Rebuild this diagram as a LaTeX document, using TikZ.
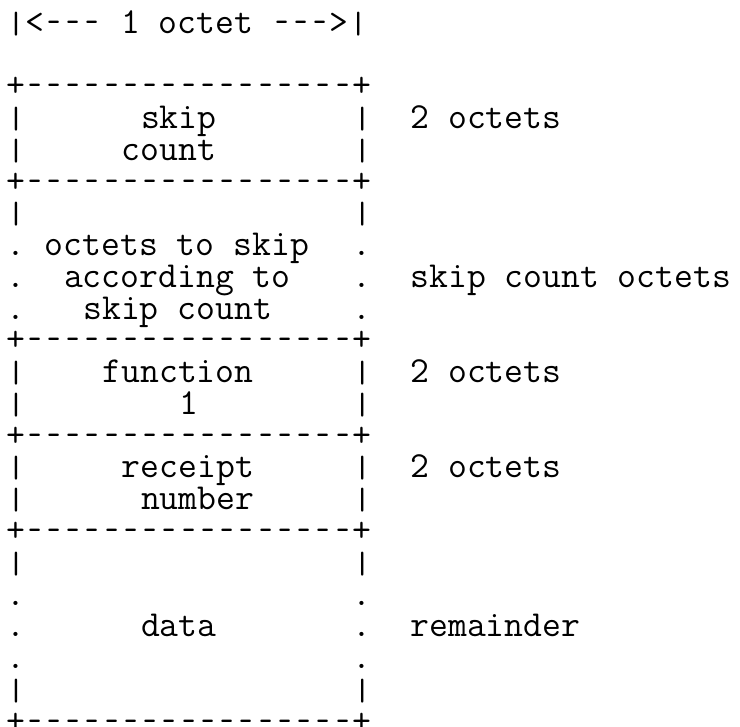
\documentclass[tikz,border=0pt]{standalone}
\usepackage{graphicx}
% one typewriter dash, kept on the 0.525em pitch of the mono font
\newcommand{\dsh}{\makebox[0.525em][c]{\scalebox{0.7}[1]{-}}}
% one typewriter bar, a little shorter than the font's own
\newcommand{\vbar}{\makebox[0.525em][c]{\scalebox{1}[0.84]{|}}}
\newcommand{\rulerow}{+\dsh\dsh\dsh\dsh\dsh\dsh\dsh\dsh\dsh\dsh\dsh\dsh\dsh\dsh\dsh\dsh\dsh+}
\tikzset{
  tt/.style={anchor=base west, inner sep=0pt, outer sep=0pt,
    font=\ttfamily\fontsize{18.32}{22}\selectfont, text=black},
}
\begin{document}
\begin{tikzpicture}[x=9.62pt, y=-15.875pt]
\useasboundingbox (0pt,0pt) rectangle (370pt,-363.5pt);
\begin{scope}[shift={(3.19pt,-0.875pt)}]
  % header
  \node[tt] (hdr) at (0,1) {\vbar<\dsh\dsh\dsh~1~octet~\dsh\dsh\dsh>\vbar};
  % separator rows
  \foreach \k in {3,6,11,14,17,23} {
    \node[tt] (S\k) at (0,\k) {\rulerow};
  }
  % solid side bars
  \foreach \k in {4,5,7,12,13,15,16,18,22} {
    \node[tt] (L\k) at (0,\k) {\vbar};
    \node[tt] (R\k) at (18,\k) {\vbar};
  }
  % dotted side marks
  \foreach \k in {8,9,10,19,20,21} {
    \node[tt] (L\k) at (0,\k) {.};
    \node[tt] (R\k) at (18,\k) {.};
  }
  % field texts
  \node[tt] (skip)     at (7,4)  {skip};
  \node[tt] (count)    at (6,5)  {count};
  \node[tt] (oskip)    at (2,8)  {octets~to~skip};
  \node[tt] (accord)   at (3,9)  {according~to};
  \node[tt] (skipcnt)  at (4,10) {skip~count};
  \node[tt] (func)     at (5,12) {function};
  \node[tt] (one)      at (9,13) {1};
  \node[tt] (receipt)  at (6,15) {receipt};
  \node[tt] (number)   at (7,16) {number};
  \node[tt] (data)     at (7,20) {data};
  % size labels
  \node[tt] (sz1) at (21,4)  {2~octets};
  \node[tt] (sz2) at (21,9)  {skip~count~octets};
  \node[tt] (sz3) at (21,12) {2~octets};
  \node[tt] (sz4) at (21,15) {2~octets};
  \node[tt] (sz5) at (21,20) {remainder};
\end{scope}
\end{tikzpicture}
\end{document}
